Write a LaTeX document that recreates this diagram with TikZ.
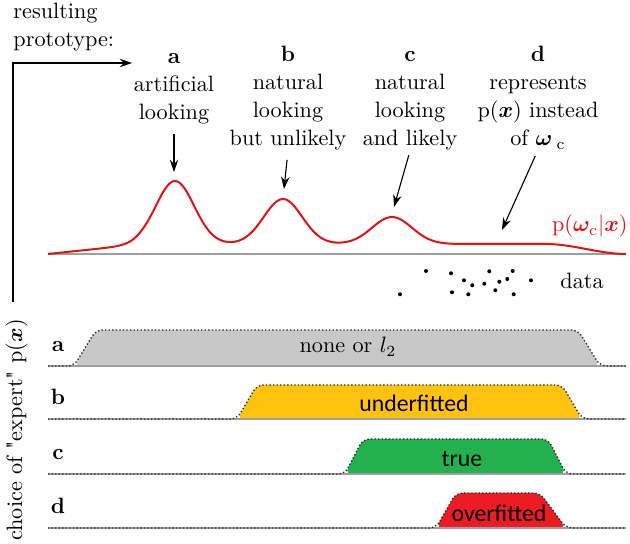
\documentclass[tikz,border=0pt]{standalone}
\usepackage{fontspec}
\usepackage{amsmath}
\usepackage{bm}
\newfontfamily\calfont{Carlito}
\usetikzlibrary{arrows.meta}
\definecolor{curvered}{RGB}{228,18,18}
\definecolor{fillgray}{RGB}{200,200,200}
\definecolor{fillyellow}{RGB}{255,194,14}
\definecolor{fillgreen}{RGB}{34,177,76}
\definecolor{fillred}{RGB}{237,28,36}
\begin{document}
\begin{tikzpicture}[x=0.45pt,y=-0.45pt,
  arr/.style={-{Stealth[length=5.5pt,width=3.8pt]}, line width=0.5pt},
  head/.style={align=center, font=\fontsize{10}{12.6}\selectfont, inner sep=0pt, anchor=base},
  rowlbl/.style={font=\bfseries, inner sep=0pt, anchor=base},
  fitlbl/.style={font=\calfont\fontsize{10.7}{12}\selectfont, inner sep=0pt, anchor=base},
  prof/.style={densely dotted, line width=0.6pt, black!85, rounded corners=3pt},
  baseln/.style={gray!75, line width=0.9pt},
  dot/.style={fill=black},
  declare function={
    gs(\t,\m,\w)=exp(max(-15,-1*(((\t-\m)/\w)*((\t-\m)/\w))));
    bgl(\t)=min(1,max(0,(\t-48)/95));
    rt(\t)=min(1,max(0,(626-\t)/80));
    bgr(\t)=rt(\t)*rt(\t)*(3-2*rt(\t));
    hh(\t)=10*bgl(\t)*bgr(\t)+63*gs(\t,175,27)+45*gs(\t,283,27)+27*gs(\t,392,28);
  }]
\useasboundingbox (0,0) rectangle (630,544);

% top-left arrow
\node[anchor=base west, align=left, inner sep=0pt, font=\fontsize{10}{12.8}\selectfont] (rp) at (13,47) {resulting\\prototype:};
\coordinate (vstart) at (13,302);
\coordinate (hend) at (132,63);
\draw[arr] (vstart) |- (hend);

% header labels (anchor = baseline of last line)
\node[head] (la) at (174,120) {\textbf{a}\\artificial\\looking};
\node[head] (lb) at (288,146) {\textbf{b}\\natural\\looking\\but unlikely};
\node[head] (lc) at (410,146) {\textbf{c}\\natural\\looking\\and likely};
\node[head] (ld) at (538,146) {\textbf{d}\\represents\\p($\bm{x}$) instead\\of $\bm{\omega}_{\;\mathrm{c}}$};

% curve
\draw[baseln] (48,254) -- (626,254);
\draw[curvered, line width=0.9pt, line join=round] plot[domain=48:626, samples=240] (\x, {254-hh(\x)});
\node[text=curvered, anchor=base east, inner sep=0pt] (pw) at (628,232) {p$(\bm{\omega}_{\mathrm{c}}|\bm{x})$};

% arrows to curve
\coordinate (ta) at (174,172);
\coordinate (tb) at (284,189);
\coordinate (tc) at (394,207);
\coordinate (td) at (502,230);
\draw[arr, shorten <=4pt] (la.south) -- (ta);
\draw[arr, shorten <=4pt] (lb.south) -- (tb);
\draw[arr, shorten <=2pt] (lc.south) -- (tc);
\draw[arr, shorten <=3pt] (ld.south) -- (td);

% data
\foreach \p in {(400,294.3),(426,271),(451,273.3),(464,280.3),(472.3,285.3),(452,292.3),(468.3,294.3),(484.3,283.7),(489.3,271.3),(499.3,281.7),(495.3,290.3),(507.3,279),(512.7,271),(513.7,294.3),(531,280.3)}
  \fill[dot] \p circle (0.9pt);
\node[anchor=base west, inner sep=0pt] (data) at (560,289) {data};

% vertical label
\node[rotate=90, anchor=base, inner sep=0pt] (ylab) at (22,430) {choice of \textquotedbl expert\textquotedbl{} p($\bm{x}$)};

% row a
\fill[fillgray, rounded corners=3pt] (74,366) -- (96,330) -- (578,330) -- (600,366) -- cycle;
\draw[baseln] (48,366) -- (626,366);
\draw[prof] (48,366) -- (74,366) -- (96,330) -- (578,330) -- (600,366) -- (626,366);
\node[rowlbl] (ra) at (58,352) {a};
\node[anchor=base, inner sep=0pt] (ta2) at (348,353) {none or $l_2$};

% row b
\fill[fillyellow, rounded corners=3pt] (237,419) -- (257,385) -- (562,385) -- (582,419) -- cycle;
\draw[baseln] (48,419) -- (626,419);
\draw[prof] (48,419) -- (237,419) -- (257,385) -- (562,385) -- (582,419) -- (626,419);
\node[rowlbl] (rb) at (58,405) {b};
\node[fitlbl] (tb2) at (414,412) {underfitted};

% row c
\fill[fillgreen, rounded corners=3pt] (345,474) -- (363,439) -- (548,439) -- (566,474) -- cycle;
\draw[baseln] (48,474) -- (626,474);
\draw[prof] (48,474) -- (345,474) -- (363,439) -- (548,439) -- (566,474) -- (626,474);
\node[rowlbl] (rc) at (58,460) {c};
\node[fitlbl] (tc2) at (462,467) {true};

% row d
\fill[fillred, rounded corners=3pt] (436,528) -- (456,493) -- (540,493) -- (566,528) -- cycle;
\draw[baseln] (48,528) -- (626,528);
\draw[prof] (48,528) -- (436,528) -- (456,493) -- (540,493) -- (566,528) -- (626,528);
\node[rowlbl] (rd) at (58,514) {d};
\node[fitlbl] (td2) at (499,522) {overfitted};
\end{tikzpicture}
\end{document}
